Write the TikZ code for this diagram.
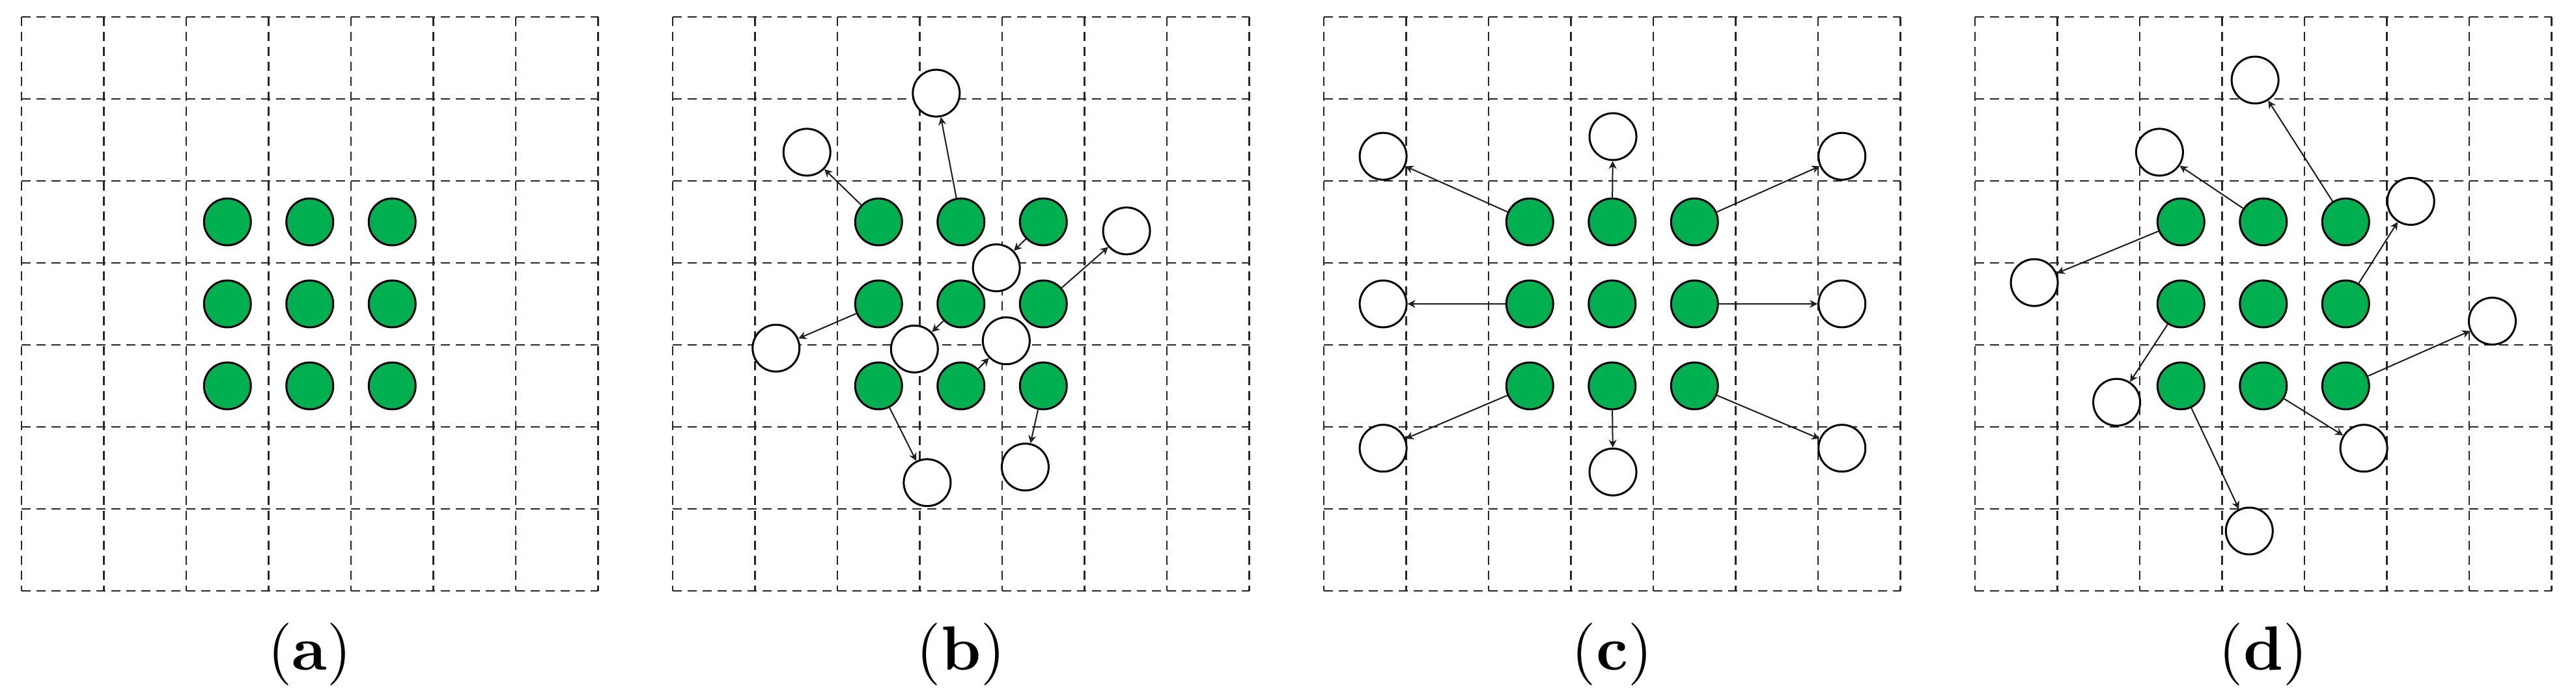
\documentclass[tikz,border=0pt]{standalone}
\usetikzlibrary{shapes.geometric,arrows.meta}
\definecolor{gr}{HTML}{00B050}
\begin{document}
\begin{tikzpicture}[
  grid/.style={line width=0.26pt,dash pattern=on 1.4pt off 0.9pt,black!85},
  g/.style={circle,draw=black,line width=0.3pt,fill=gr,minimum size=7.2pt,inner sep=0pt},
  w/.style={circle,draw=black,line width=0.3pt,fill=white,minimum size=7.2pt,inner sep=0pt},
  arr/.style={line width=0.2pt,black!90,-{Stealth[length=1.2pt,width=1.2pt,open]}},
  lab/.style={font=\fontsize{9.6}{11}\selectfont}]
\useasboundingbox (0,0) rectangle (395.6pt,106.8pt);
\foreach \p/\k in {a/0,b/1,c/2,d/3}{
  \begin{scope}[xshift=3.3pt+100pt*\k,yshift=104.2pt,x=12.65pt,y=-12.6pt]
    \foreach \t in {0,...,7}{
      \draw[grid] (\t,0) -- (\t,7);
      \draw[grid] (0,\t) -- (7,\t);
    }
    \foreach \i in {1,2,3}{\foreach \j in {1,2,3}{
      \node[g] (\p g\i\j) at (\i+1.5,\j+1.5) {};
    }}
    \node[lab] (\p lab) at (3.5,7.77) {(\textbf{\p})};
  \end{scope}
}
\begin{scope}[xshift=103.3pt,yshift=104.2pt,x=12.65pt,y=-12.6pt]
  \foreach \n/\x/\y/\s in {1/3.20/0.93/21,2/1.63/1.65/11,3/5.51/2.61/32,4/3.93/3.06/31,5/1.255/4.04/12,6/2.935/4.05/22,7/4.05/3.95/23,8/3.09/5.68/13,9/4.28/5.49/33}{
    \node[w] (bw\n) at (\x,\y) {};
    \draw[arr] (bg\s) -- (bw\n);
  }
\end{scope}
\begin{scope}[xshift=203.3pt,yshift=104.2pt,x=12.65pt,y=-12.6pt]
  \foreach \n/\x/\y/\s in {1/0.72/1.70/11,2/3.51/1.46/21,3/6.29/1.70/31,4/0.72/3.5/12,5/6.29/3.5/32,6/0.72/5.26/13,7/3.51/5.55/23,8/6.29/5.26/33}{
    \node[w] (cw\n) at (\x,\y) {};
    \draw[arr] (cg\s) -- (cw\n);
  }
\end{scope}
\begin{scope}[xshift=303.3pt,yshift=104.2pt,x=12.65pt,y=-12.6pt]
  \foreach \n/\x/\y/\s in {1/3.40/0.77/31,2/2.24/1.65/21,3/5.29/2.25/32,4/0.72/3.24/11,5/6.28/3.71/33,6/1.72/4.70/12,7/4.72/5.26/23,8/3.33/6.27/13}{
    \node[w] (dw\n) at (\x,\y) {};
    \draw[arr] (dg\s) -- (dw\n);
  }
\end{scope}
\end{tikzpicture}
\end{document}
